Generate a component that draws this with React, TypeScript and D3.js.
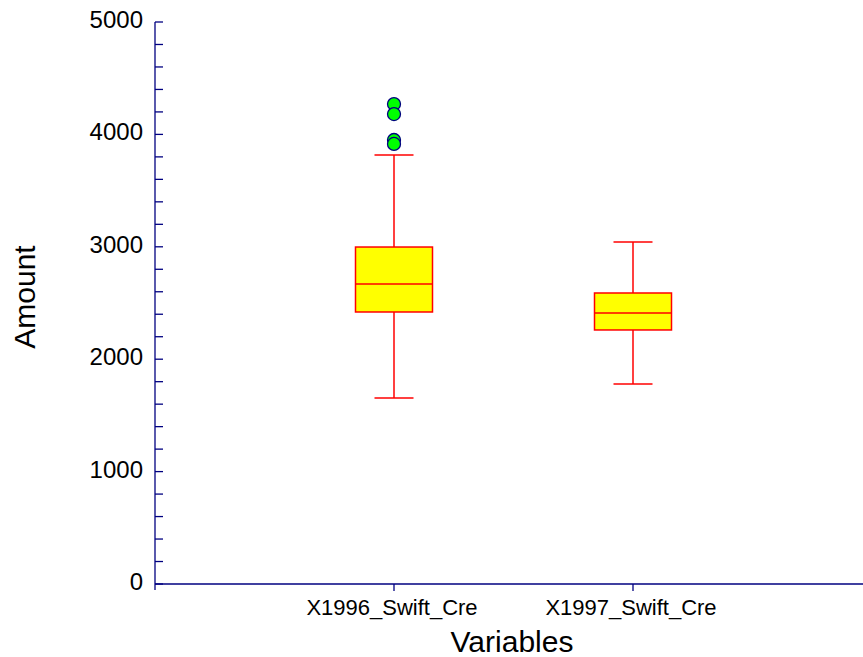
import React from "react";
import * as d3 from "d3";

const categories = ["X1996_Swift_Cre", "X1997_Swift_Cre"];
const whiskerLow = [1655, 1779];
const q1 = [2420, 2260];
const median = [2669, 2411];
const q3 = [2998, 2589];
const whiskerHigh = [3817, 3043];
const outliers: number[][] = [[4270, 4181, 3950, 3915], []];
const yTicks = [0, 1000, 2000, 3000, 4000, 5000];

const W = 863;
const H = 657;
const AXIS = "#000080";
const FONT = "'Liberation Sans', Arial, sans-serif";

export default function App() {
  const y = d3.scaleLinear().domain([0, 5000]).range([584, 22]);
  const x = d3.scaleLinear().domain([0, 3]).range([155, 872]);
  const minor = d3.range(0, 5001, 200);
  const boxHalf = 38.5;
  const capHalf = 19.5;

  return (
    <svg width={W} height={H} style={{ position: "absolute", left: 0, top: 0 }} fontFamily={FONT}>
      <rect width={W} height={H} fill="#fff" />
      {/* y axis */}
      <line x1={155} x2={155} y1={y(5000)} y2={590} stroke={AXIS} strokeWidth={1.3} />
      {minor.map((v) => (
        <line key={v} x1={155} x2={163} y1={y(v)} y2={y(v)} stroke={AXIS} strokeWidth={1.3} />
      ))}
      {yTicks.map((v) => (
        <text key={v} x={143} y={y(v) + 6} textAnchor="end" fontSize={24} fill="#000">
          {v}
        </text>
      ))}
      {/* x axis */}
      <line x1={155} x2={W} y1={584} y2={584} stroke={AXIS} strokeWidth={1.3} />
      {categories.map((c, i) => (
        <g key={c}>
          <line x1={x(i + 1)} x2={x(i + 1)} y1={584} y2={591} stroke={AXIS} strokeWidth={1.3} />
          <text x={x(i + 1) - 2} y={615} textAnchor="middle" fontSize={22} fill="#000">
            {c}
          </text>
        </g>
      ))}
      <text x={512} y={652} textAnchor="middle" fontSize={30} fill="#000">Variables</text>
      <text transform={`translate(35,297) rotate(-90)`} textAnchor="middle" fontSize={30} fill="#000">
        Amount
      </text>
      {/* boxes */}
      {categories.map((c, i) => {
        const cx = x(i + 1);
        return (
          <g key={c} stroke="#ff0000" strokeWidth={1.5}>
            <line x1={cx} x2={cx} y1={y(whiskerHigh[i])} y2={y(q3[i])} />
            <line x1={cx} x2={cx} y1={y(q1[i])} y2={y(whiskerLow[i])} />
            <line x1={cx - capHalf} x2={cx + capHalf} y1={y(whiskerHigh[i])} y2={y(whiskerHigh[i])} />
            <line x1={cx - capHalf} x2={cx + capHalf} y1={y(whiskerLow[i])} y2={y(whiskerLow[i])} />
            <rect x={cx - boxHalf} y={y(q3[i])} width={boxHalf * 2} height={y(q1[i]) - y(q3[i])} fill="#ffff00" />
            <line x1={cx - boxHalf} x2={cx + boxHalf} y1={y(median[i])} y2={y(median[i])} />
            {outliers[i].map((v, j) => (
              <circle key={j} cx={cx} cy={y(v)} r={6.5} fill="#00ff00" stroke={AXIS} strokeWidth={1.3} />
            ))}
          </g>
        );
      })}
    </svg>
  );
}
